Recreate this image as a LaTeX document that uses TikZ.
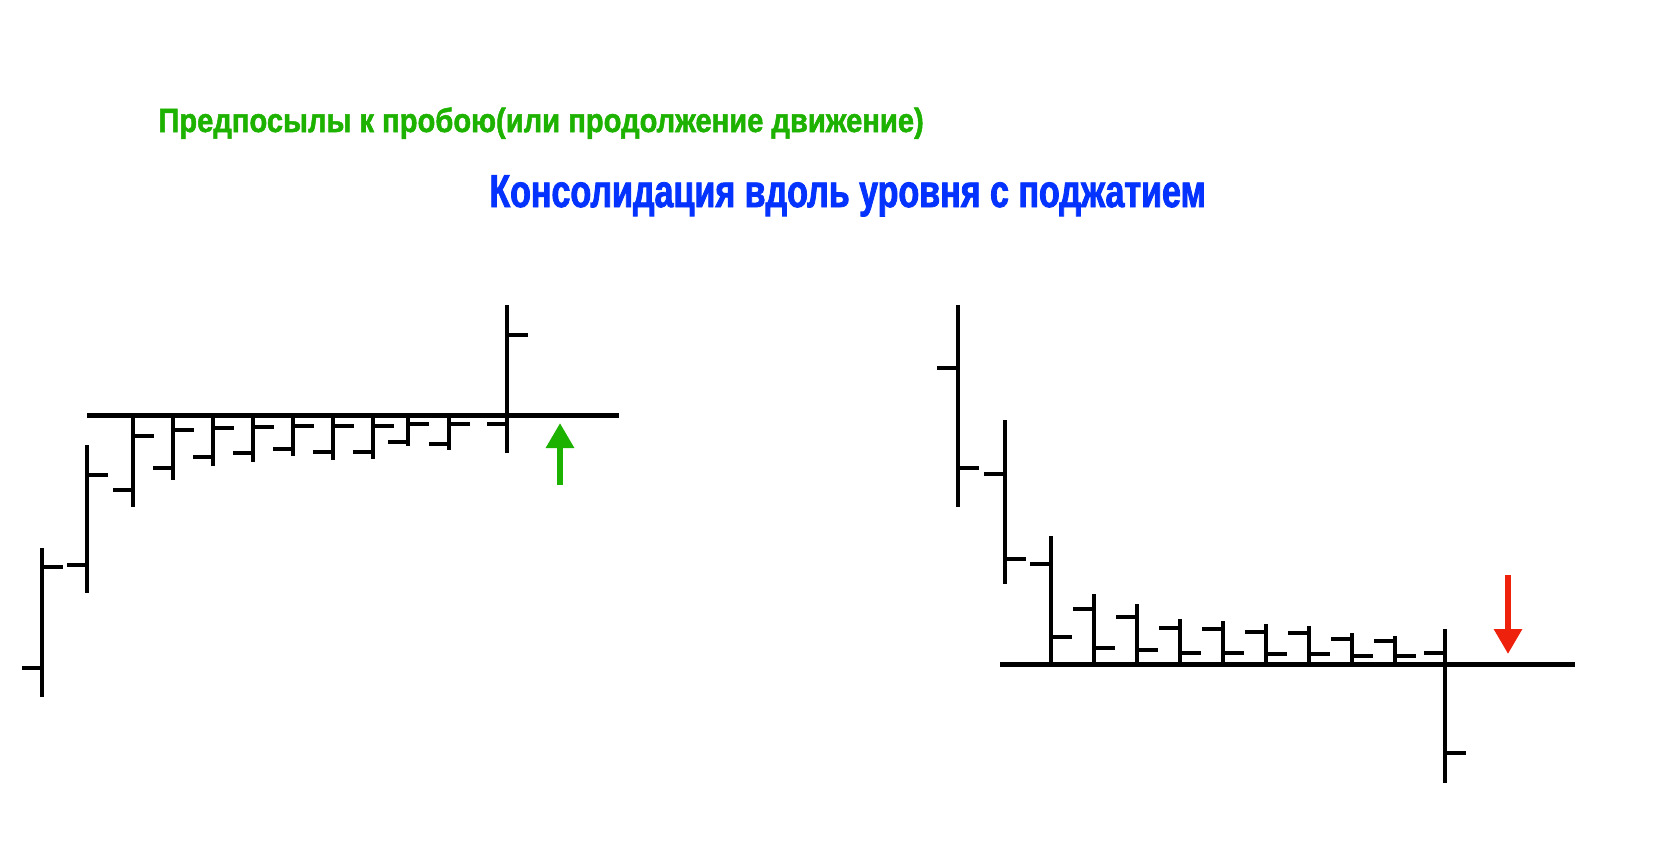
\documentclass[tikz,border=0pt]{standalone}
\usepackage{fontspec}
\setmainfont{Liberation Sans}
\newfontfamily\hintfont[FakeStretch=0.87,FakeBold=1.5]{Liberation Sans}
\newfontfamily\levelfont[FakeStretch=0.74,FakeBold=1.8]{Liberation Sans}
\usetikzlibrary{arrows.meta}
\definecolor{hintgreen}{HTML}{1DB100}
\definecolor{levelblue}{HTML}{0433FF}
\definecolor{breakred}{HTML}{EE220C}

\begin{document}
\begin{tikzpicture}[x=0.5pt,y=-0.5pt,
    bar/.style={line width=2.35pt},
    level/.style={line width=2.5pt},
    signal/.style={line width=3pt,-{Triangle[length=12.5pt,width=13.5pt]}}]
  \useasboundingbox (0,0) rectangle (1654,842);
  % titles
  \node[anchor=base west,inner sep=0pt,text=hintgreen,
        font=\hintfont\bfseries\fontsize{16.75}{20}\selectfont] (hint) at (158,132)
        {Предпосылы к пробою(или продолжение движение)};
  \node[anchor=base west,inner sep=0pt,text=levelblue,
        font=\levelfont\bfseries\fontsize{23}{28}\selectfont] (title) at (489,207)
        {Консолидация вдоль уровня с поджатием};

  % left: squeeze under resistance, breakout up
  \draw[level] (87,415) -- (619,415);
  \foreach \x/\h/\l/\o/\c in {42/548/697/668/567, 87/445/593/565/475,
      133/415/507/490/436, 173/415/480/468/430, 213/415/466/457/428,
      253/415/462/453/427, 293/415/456/449/426, 333/415/460/452/426,
      373/415/459/452/426, 408/415/446/442/424, 449/415/450/444/424,
      507/305/453/424/335}
    \draw[bar] (\x,\h) -- (\x,\l) (\x,\o) -- ++(-20,0) (\x,\c) -- ++(21,0);
  \draw[signal,hintgreen] (560,485) -- (560,423);

  % right: squeeze over support, breakout down
  \draw[level] (1000,664) -- (1575,664);
  \foreach \x/\h/\l/\o/\c in {958/305/507/368/468, 1005/420/584/474/559,
      1051/536/664/564/637, 1094/594/664/609/648, 1137/604/664/617/650,
      1180/619/664/628/653, 1223/621/664/629/653, 1266/624/664/632/654,
      1309/626/664/633/654, 1352/633/664/639/656, 1395/636/664/641/656,
      1445/629/783/653/753}
    \draw[bar] (\x,\h) -- (\x,\l) (\x,\o) -- ++(-21,0) (\x,\c) -- ++(21,0);
  \draw[signal,breakred] (1508,575) -- (1508,654);
\end{tikzpicture}
\end{document}
